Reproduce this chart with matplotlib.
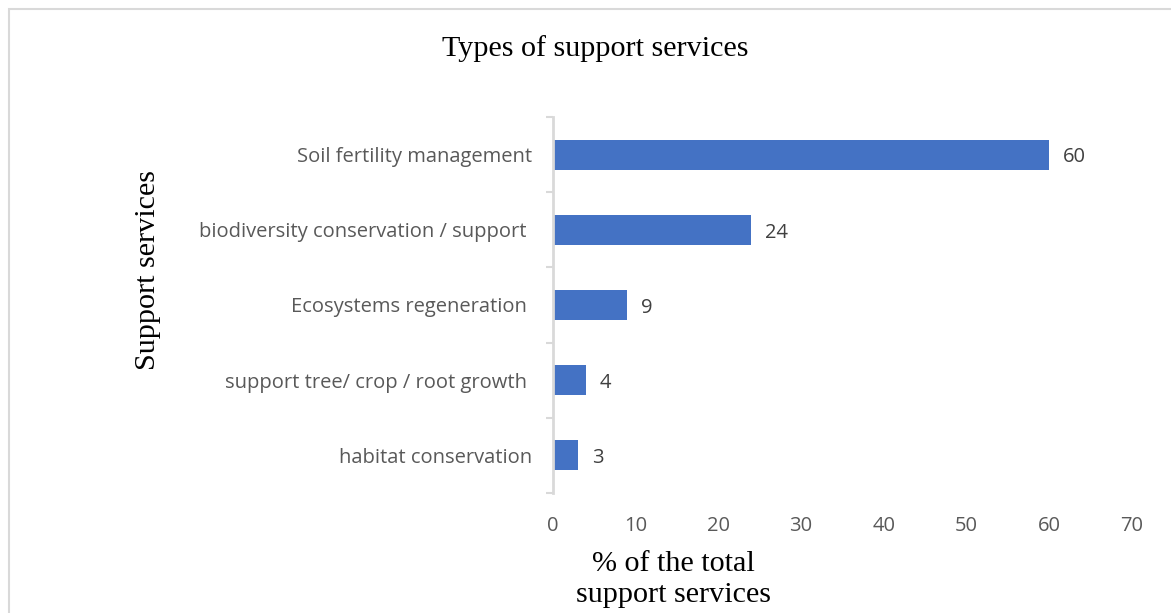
import matplotlib.pyplot as plt
from matplotlib.patches import Rectangle

services = ['Soil fertility management',
            'biodiversity conservation / support ',
            'Ecosystems regeneration ',
            'support tree/ crop / root growth ',
            'habitat conservation']
percent = [60, 24, 9, 4, 3]
x_ticks = [0, 10, 20, 30, 40, 50, 60, 70]

bar_color = '#4472c4'
label_font = 'Open Sans'
serif = 'Liberation Serif'

fig = plt.figure(figsize=(11.71, 6.13), dpi=100)
ax = fig.add_axes([0.4722, 0.196, 0.4945, 0.613])

pos = list(range(len(services)))
ax.barh(pos, percent, height=0.4, color=bar_color)
for p, v in zip(pos, percent):
    ax.annotate(str(v), (v, p), xytext=(10, -2), textcoords='offset points',
                va='center', ha='left', fontsize=14.5, color='#404040',
                family=label_font)

ax.set_ylim(len(services) - 0.5, -0.5)
ax.set_xlim(0, 70)
ax.set_yticks(pos)
ax.set_yticklabels(services, family=label_font, fontsize=14.5, color='#595959')
ax.set_yticks([i - 0.5 for i in range(len(services) + 1)], minor=True)
ax.tick_params(axis='y', which='major', length=0, pad=15)
ax.tick_params(axis='y', which='minor', length=5, color='#d9d9d9', width=1.5)
ax.set_xticks(x_ticks)
ax.set_xticklabels([str(t) for t in x_ticks], family=label_font, fontsize=14.5,
                   color='#595959')
ax.tick_params(axis='x', length=0, pad=17)

for s in ['top', 'right', 'bottom']:
    ax.spines[s].set_visible(False)
ax.spines['left'].set_color('#d9d9d9')
ax.spines['left'].set_linewidth(2)

fig.text(0.508, 0.921, 'Types of support services', family=serif, fontsize=21.7,
         ha='center', va='center')
fig.text(0.126, 0.56, 'Support services', family=serif, fontsize=21.7,
         ha='center', va='center', rotation=90)
fig.text(0.575, 0.054, '% of the total\nsupport services', family=serif,
         fontsize=21.7, ha='center', va='center', linespacing=1.25)

# light outer border of the chart area
fig.patches.append(Rectangle((9 / 1171, -0.1), 1.1, 1 - 9 / 613 + 0.1,
                             transform=fig.transFigure, fill=False,
                             edgecolor='#d9d9d9', linewidth=1.5))

fig.savefig('out.png', dpi=100)
